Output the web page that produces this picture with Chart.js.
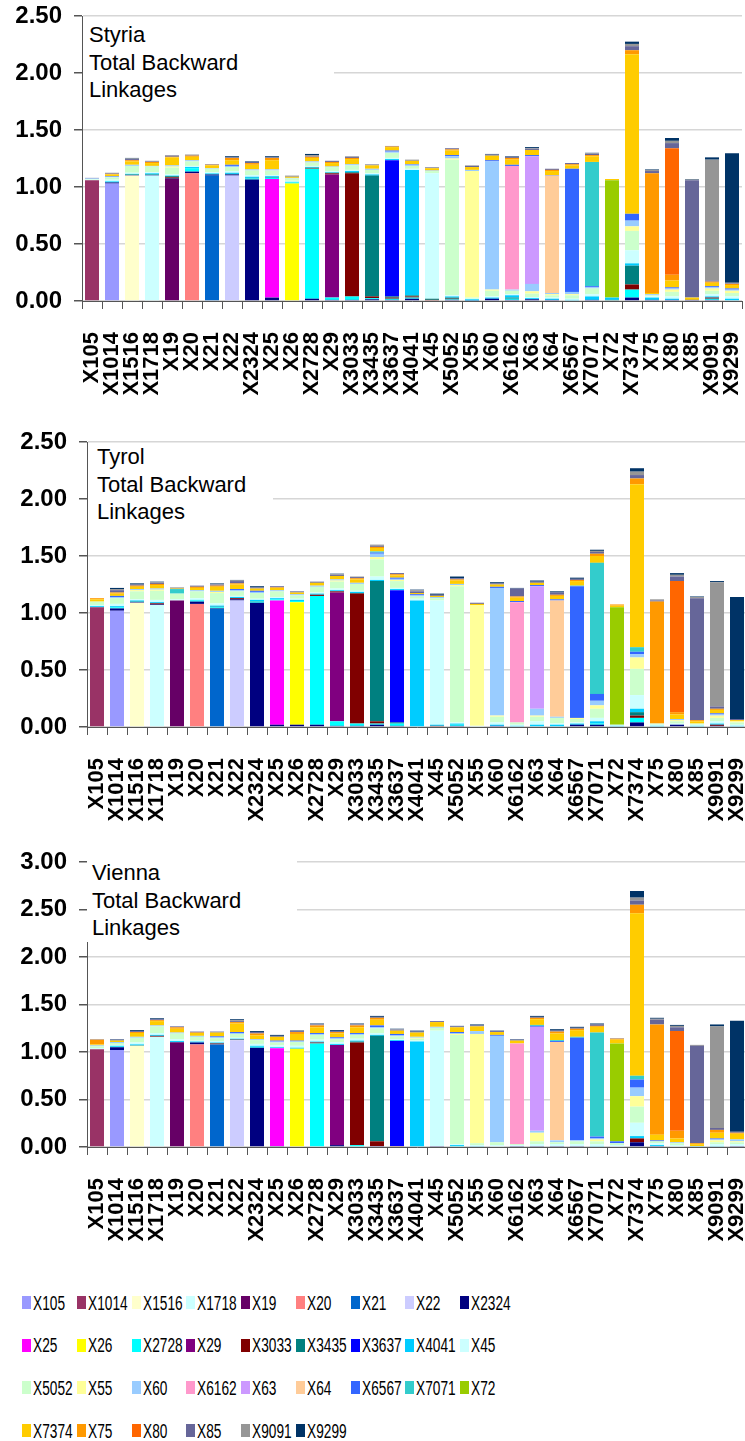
<!DOCTYPE html>
<html>
<head>
<meta charset="utf-8">
<script src="https://cdn.jsdelivr.net/npm/chart.js@4.4.1/dist/chart.umd.min.js"></script>
<style>
    html, body { margin: 0; padding: 0; background: #fff; }
    body { width: 745px; height: 1441px; position: relative; overflow: hidden; font-family: "Liberation Sans", Arial, sans-serif; }
    canvas { position: absolute; left: 0; }
    .title { position: absolute; background: #fff; font-size: 22px; line-height: 27.7px; color: #000; }
    .legend-item { position: absolute; width: 54px; height: 13px; }
    .swatch { position: absolute; left: 0; top: 0; width: 9px; height: 13px; }
    .legend-item span { position: absolute; left: 11px; top: -3.5px; font-size: 20px; line-height: 20px; transform: scaleX(0.685); transform-origin: 0 50%; white-space: nowrap; color: #000; }
</style>
</head>
<body>
<canvas id="styria-chart" width="745" height="400" style="top:0px"></canvas>
<canvas id="tyrol-chart" width="748" height="400" style="top:426px"></canvas>
<canvas id="vienna-chart" width="748" height="400" style="top:846px"></canvas>

<div class="title" style="left:83px;top:21px;width:245px;padding-left:6px;">Styria<br>Total Backward<br>Linkages</div>
<div class="title" style="left:88px;top:443px;width:176px;padding-left:9px;">Tyrol<br>Total Backward<br>Linkages</div>
<div class="title" style="left:87px;top:859px;width:205px;padding-left:5px;">Vienna<br>Total Backward<br>Linkages</div>

<div id="legend"></div>

<script>
    // sectors on the x axis (and legend series, same order)
    const categories = ['X105', 'X1014', 'X1516', 'X1718', 'X19', 'X20', 'X21', 'X22', 'X2324',
        'X25', 'X26', 'X2728', 'X29', 'X3033', 'X3435', 'X3637', 'X4041', 'X45',
        'X5052', 'X55', 'X60', 'X6162', 'X63', 'X64', 'X6567', 'X7071', 'X72',
        'X7374', 'X75', 'X80', 'X85', 'X9091', 'X9299'];
    const seriesNames = categories.slice();
    const seriesColors = ['#9999FF', '#993366', '#FFFFCC', '#CCFFFF', '#660066', '#FF8080', '#0066CC', '#CCCCFF', '#000080',
        '#FF00FF', '#FFFF00', '#00FFFF', '#800080', '#800000', '#008080', '#0000FF', '#00CCFF', '#CCFFFF',
        '#CCFFCC', '#FFFF99', '#99CCFF', '#FF99CC', '#CC99FF', '#FFCC99', '#3366FF', '#33CCCC', '#99CC00',
        '#FFCC00', '#FF9900', '#FF6600', '#666699', '#969696', '#003366'];
    // series that fills the main block of each bar (first two are swapped in the original)
    const barOwner = ['X1014', 'X105', 'X1516', 'X1718', 'X19', 'X20', 'X21', 'X22', 'X2324',
        'X25', 'X26', 'X2728', 'X29', 'X3033', 'X3435', 'X3637', 'X4041', 'X45',
        'X5052', 'X55', 'X60', 'X6162', 'X63', 'X64', 'X6567', 'X7071', 'X72',
        'X7374', 'X75', 'X80', 'X85', 'X9091', 'X9299'];

    // ---- Styria ----
    const styriaOwn = [1.06, 1.03, 1.10, 1.10, 1.07, 1.12, 1.10, 1.10, 1.065, 1.04, 1.03, 1.14, 1.08, 1.08, 1.06, 1.195, 1.10, 1.10, 1.19, 1.11, 1.125, 1.085, 1.12, 1.03, 1.08, 1.09, 1.03, 1.40, 1.05, 1.11, 1.03, 1.06, 1.135];
    const styriaX2324 = [0, .01, .005, .005, .005, .015, .01, .01, 0, .03, 0, .02, .01, .01, .015, .01, .02, 0, .01, .005, .02, .01, .015, .01, 0, .01, 0, .03, .01, .01, .01, .01, 0];
    const styriaX2728 = [0, .005, 0, 0, 0, .03, .005, 0, .01, .01, .01, 0, .02, .03, .01, .01, .01, 0, .005, 0, 0, .01, 0, 0, 0, 0, 0, .07, 0, 0, 0, .01, 0];
    const styriaX3033 = [0, 0, 0, 0, .01, 0, 0, 0, 0, 0, 0, .005, .01, 0, .015, .01, .01, .01, .005, 0, 0, 0, 0, 0, 0, 0, 0, .045, 0, 0, 0, .01, 0];
    const styriaX3435 = [0, 0, .005, .005, .01, 0, 0, .005, .005, .005, 0, .005, .005, .01, 0, .01, .01, .01, .01, 0, 0, .01, 0, 0, 0, 0, .01, .165, 0, 0, 0, 0, 0];
    const styriaX4041 = [0, .005, .005, .01, .005, .01, .005, .01, .01, .01, .005, .005, .005, .01, .01, .01, 0, 0, .01, .01, .01, .02, .01, .01, .01, .03, .02, .02, .02, .01, 0, .01, .02];
    const styriaX45 = [.005, .015, .01, .01, .01, .01, .01, .015, .015, .01, .01, .01, .01, .01, .01, .01, .01, 0, .01, .005, .01, .01, .01, .01, .01, .02, 0, .115, .01, .02, 0, .02, .02];
    const styriaX5052 = [.005, .02, .06, .05, .06, .04, .03, .035, .04, .04, .02, .03, .035, .04, .03, .045, .025, .02, 0, .01, .05, .03, .03, .02, .03, .05, 0, .17, .01, .04, 0, .03, .03];
    const styriaX55 = [0, 0, 0, 0, .01, 0, 0, 0, 0, 0, 0, 0, 0, 0, 0, 0, 0, 0, .01, 0, .01, 0, .02, .01, .01, 0, 0, .04, 0, .02, 0, .02, .02];
    const styriaX60 = [.005, .005, .01, .005, .01, .01, .005, .01, .01, .01, .005, .01, .005, .01, .01, .01, .01, .005, .02, .01, 0, .01, .065, .01, .02, .01, 0, .05, .01, .01, 0, .01, .01];
    const styriaX6567 = [0, .005, 0, 0, 0, 0, 0, .01, 0, 0, 0, 0, 0, 0, 0, .01, .005, 0, .01, 0, .01, .01, .01, .005, 0, .01, 0, .06, 0, .01, 0, .01, .01];
    const styriaX7374 = [0, .015, .03, .025, .07, .03, .025, .04, .04, .08, .01, .03, .03, .045, .03, .03, .03, .02, .04, .025, .04, .045, .045, .035, .03, .05, .01, 0, .01, .06, .02, .03, .03];
    const styriaX75 = [0, .005, .01, .01, .005, .01, .005, .02, .015, .02, 0, .01, .01, .01, 0, .005, 0, 0, .01, 0, 0, .015, 0, .01, .01, .01, 0, .035, 0, .05, 0, .01, .01];
    const styriaX85 = [.005, .005, .01, .005, .01, .005, .005, .005, .01, .005, .005, .005, .01, .01, .005, .005, .005, .005, .01, .01, .01, .01, .01, .01, .01, .01, 0, .035, .02, .045, 0, .01, .005];
    const styriaX9091 = [0, .005, .005, .005, .005, .005, 0, 0, 0, 0, .005, .01, 0, .005, .005, 0, .005, .005, 0, .005, 0, 0, .005, 0, 0, .005, 0, .02, .01, .02, .005, 0, .005];
    const styriaX9299 = [0, 0, .005, 0, 0, 0, 0, .01, .005, .01, 0, .01, 0, 0, 0, 0, 0, 0, 0, 0, .005, .005, .01, 0, 0, .005, 0, .02, .005, .025, .005, .02, 0];

    // ---- Tyrol ----
    const tyrolOwn = [1.05, 1.02, 1.09, 1.07, 1.11, 1.08, 1.035, 1.11, 1.09, 1.09, 1.075, 1.13, 1.13, 1.14, 1.23, 1.16, 1.11, 1.09, 1.195, 1.06, 1.12, 1.055, 1.075, 1.02, 1.155, 1.15, 1.03, 1.43, 1.07, 1.15, 1.07, 1.09, 1.07];
    const tyrolX2324 = [0, .02, .005, .005, 0, .02, .005, .01, 0, .02, .02, .02, .01, .01, .02, .01, 0, 0, .01, 0, .01, 0, 0, 0, .02, .02, 0, .04, 0, .02, 0, .01, 0];
    const tyrolX2728 = [0, .01, 0, 0, 0, .01, .01, 0, .01, .01, .01, 0, .04, .02, .01, .02, 0, 0, .01, 0, 0, 0, 0, 0, 0, .01, 0, .04, 0, 0, 0, 0, 0];
    const tyrolX3033 = [0, 0, 0, .01, 0, 0, 0, .01, 0, 0, 0, .01, .01, 0, .02, 0, 0, .01, 0, 0, 0, 0, 0, 0, 0, 0, 0, .02, 0, 0, 0, .01, 0];
    const tyrolX3435 = [0, 0, .005, 0, 0, 0, .005, 0, .005, 0, 0, 0, 0, .005, 0, .01, 0, 0, 0, 0, 0, 0, 0, 0, 0, 0, 0, .03, 0, 0, 0, 0, 0];
    const tyrolX4041 = [.01, .01, .01, .01, 0, .005, .01, .01, .01, .01, .01, .01, .01, .01, .01, .01, 0, .01, .01, 0, .01, .01, .02, .02, .01, .02, .01, .03, .01, 0, .01, .01, .01];
    const tyrolX45 = [.01, .02, .01, .02, .01, .015, .02, .01, .01, .01, .01, .01, .015, .01, .03, .01, .015, 0, .01, .01, .02, .01, .03, .01, .01, .03, .01, .12, .01, .01, .01, .02, .01];
    const tyrolX5052 = [.03, .05, .07, .08, .05, .06, .09, .04, .05, .05, .03, .05, .06, .06, .15, .06, .02, .02, 0, 0, .05, .02, .04, .05, .03, .08, 0, .23, .01, .02, .01, .03, .02];
    const tyrolX55 = [0, 0, .01, .01, 0, 0, .01, 0, 0, 0, 0, 0, .01, 0, .02, .01, 0, 0, .01, 0, .01, 0, .01, 0, .01, .03, 0, .10, 0, .01, 0, .02, .01];
    const tyrolX60 = [0, .01, .01, .01, 0, .01, .01, .01, .01, .01, .01, .01, .01, .01, .03, .01, .01, .01, .01, 0, 0, 0, .06, .01, 0, .04, 0, .03, 0, .01, 0, .01, 0];
    const tyrolX6567 = [0, .01, 0, 0, 0, 0, 0, .01, .01, 0, 0, 0, 0, 0, .01, .01, .01, 0, 0, 0, .01, .01, .01, .01, 0, .06, 0, .02, 0, 0, 0, .01, 0];
    const tyrolX7071 = [0, 0, 0, 0, .04, 0, 0, 0, 0, 0, 0, 0, 0, 0, .01, 0, 0, 0, 0, 0, 0, 0, 0, 0, .005, 0, 0, .04, 0, 0, 0, 0, 0];
    const tyrolX7374 = [.02, .02, .02, .03, .005, .02, .035, .04, .02, .02, .015, .025, .03, .03, .03, .02, .01, .01, .03, .01, .02, .03, .02, .03, .04, .06, .015, 0, 0, .04, .02, .03, .01];
    const tyrolX75 = [.01, .01, .01, .01, 0, .01, .01, .01, 0, .005, 0, 0, 0, .01, .01, .01, 0, 0, .01, 0, 0, .01, 0, .01, .01, .02, .01, .05, 0, .02, .01, .01, 0];
    const tyrolX85 = [0, .02, .01, .01, .005, .01, .01, .02, .01, .01, .01, .01, .01, .01, .01, .01, .015, .01, .01, .01, .01, .07, .01, .02, .01, .015, 0, .03, .01, .04, 0, .02, .01];
    const tyrolX9091 = [0, .01, 0, .005, .005, 0, .005, .005, 0, 0, 0, 0, .005, .005, .01, 0, .01, 0, 0, 0, 0, 0, 0, 0, 0, .01, 0, .03, .01, .015, .01, 0, 0];
    const tyrolX9299 = [0, .01, .01, .005, 0, 0, .005, .005, .01, 0, 0, 0, .005, 0, 0, 0, .005, .01, .015, 0, .01, .005, .01, .01, .01, .01, 0, .03, 0, .015, .005, .01, 0];

    // ---- Vienna ----
    const viennaOwn = [1.03, 1.02, 1.065, 1.16, 1.10, 1.08, 1.08, 1.125, 1.045, 1.03, 1.035, 1.09, 1.055, 1.08, 1.11, 1.105, 1.11, 1.215, 1.15, 1.15, 1.12, 1.06, 1.095, 1.035, 1.08, 1.095, 1.03, 1.71, 1.16, 1.05, 1.025, 1.07, 1.17];
    const viennaX2324 = [0, .03, 0, 0, .005, .02, 0, 0, 0, .01, 0, 0, .02, 0, .01, 0, 0, .01, 0, 0, 0, .01, .01, .01, .01, 0, 0, .05, .01, 0, 0, 0, .01];
    const viennaX2728 = [0, .005, 0, 0, 0, 0, 0, 0, .01, 0, 0, 0, 0, .02, 0, 0, 0, 0, .01, 0, 0, 0, 0, 0, 0, 0, 0, 0, 0, 0, 0, 0, 0];
    const viennaX3033 = [0, 0, 0, .01, 0, 0, .01, .005, 0, 0, 0, .01, 0, 0, .05, .01, 0, 0, 0, 0, 0, 0, 0, 0, 0, 0, 0, .04, 0, 0, 0, 0, 0];
    const viennaX3435 = [0, 0, .005, 0, 0, 0, 0, 0, 0, 0, 0, 0, 0, .01, 0, 0, 0, 0, 0, 0, 0, 0, 0, 0, 0, 0, 0, 0, 0, 0, 0, 0, 0];
    const viennaX4041 = [0, .01, .01, .01, .01, .01, .01, .01, .01, .01, .01, .01, .01, .01, .01, .01, 0, 0, .01, .01, 0, 0, 0, 0, 0, .01, 0, .025, .01, 0, .01, .01, 0];
    const viennaX45 = [.01, .01, .02, .02, .02, .01, .015, .01, .02, .02, .02, .02, .02, .02, .02, .01, .01, 0, .01, .01, .02, .01, .02, .02, .02, .02, .02, .14, .02, .02, 0, .02, .02];
    const viennaX5052 = [.02, .02, .05, .07, .06, .04, .03, .04, .04, .03, .04, .05, .03, .04, .05, .03, .02, .03, 0, .02, .03, .01, .03, .02, .03, .03, .02, .17, .02, .02, 0, .02, .02];
    const viennaX55 = [0, 0, 0, 0, 0, 0, 0, 0, 0, 0, 0, 0, 0, 0, 0, 0, .01, 0, .01, 0, 0, 0, .09, 0, 0, .02, 0, .11, 0, 0, 0, .02, .01];
    const viennaX60 = [.01, .01, .01, .01, .01, .01, .01, .01, .01, .01, .01, .01, .01, .01, .01, .01, .01, .01, .01, .03, 0, 0, .02, .02, .01, .01, 0, .09, 0, .01, 0, .01, .02];
    const viennaX6567 = [0, 0, 0, 0, 0, 0, .01, .01, 0, .01, .005, .01, .01, .01, .02, .015, 0, 0, .01, 0, .01, 0, .01, .01, 0, .02, .02, .085, .01, 0, 0, .01, 0];
    const viennaX7071 = [0, 0, 0, 0, 0, 0, 0, 0, 0, 0, 0, 0, 0, 0, 0, 0, 0, 0, 0, 0, 0, 0, .01, .01, .01, 0, 0, .04, 0, 0, 0, 0, 0];
    const viennaX7374 = [.01, .015, .04, .045, .04, .03, .04, .09, .04, .04, .07, .06, .04, .06, .06, .035, .045, .05, .05, .05, .03, .03, .06, .07, .07, .06, .04, 0, .06, .04, .02, .06, .06];
    const viennaX75 = [.05, 0, .01, .01, .015, .005, 0, .015, .02, 0, .02, .02, .015, .02, .02, 0, 0, 0, 0, 0, 0, 0, .015, .02, .015, .01, .01, .09, 0, .08, .01, .03, .01];
    const viennaX85 = [.005, .01, .01, .01, .01, .01, .01, .01, .015, .01, .01, .01, .01, .01, .01, .01, .01, .01, .01, .01, .01, .01, .01, .01, .01, .015, .005, .045, .05, .04, 0, .02, .01];
    const viennaX9091 = [0, 0, 0, 0, 0, 0, 0, .01, 0, 0, .005, .005, 0, .005, 0, .005, 0, 0, 0, 0, 0, 0, 0, 0, 0, 0, 0, .03, .01, .015, .01, 0, 0];
    const viennaX9299 = [0, .005, .01, .01, 0, 0, 0, .01, .01, .01, .005, .005, .01, .005, .01, .005, .01, 0, .005, .01, .005, .005, .01, .015, .01, .01, 0, .07, .01, .01, 0, .02, 0];

    const styriaTicks = [0, 0.5, 1, 1.5, 2, 2.5];
    const tyrolTicks = [0, 0.5, 1, 1.5, 2, 2.5];
    const viennaTicks = [0, 0.5, 1, 1.5, 2, 2.5, 3];

    const fontFamily = '"Liberation Sans", Arial, sans-serif';

    function buildDatasets(own, inputs) {
        return seriesNames.map((name, s) => ({
            label: name,
            data: categories.map((c, b) => {
                let v = barOwner[b] === name ? own[b] : 0;
                if (inputs[name]) v += inputs[name][b];
                return v;
            }),
            backgroundColor: seriesColors[s],
            borderWidth: 0,
            barPercentage: 0.7,
            categoryPercentage: 1.0
        }));
    }

    function makeChart(id, own, inputs, ticks, axisWidth, padRight) {
        const ctx = document.getElementById(id).getContext('2d');
        return new Chart(ctx, {
            type: 'bar',
            data: { labels: categories, datasets: buildDatasets(own, inputs) },
            options: {
                responsive: false,
                animation: false,
                layout: { padding: { top: 16, right: padRight, left: 0, bottom: 0 } },
                plugins: { legend: { display: false }, tooltip: { enabled: false } },
                scales: {
                    x: {
                        stacked: true,
                        grid: { offset: true, drawOnChartArea: false, tickLength: 8, tickColor: '#555', lineWidth: 1 },
                        border: { color: '#555', width: 1 },
                        ticks: {
                            autoSkip: false, maxRotation: 90, minRotation: 90, padding: 23, color: '#000',
                            font: { family: fontFamily, size: 22, weight: 'bold' }
                        },
                        afterFit: a => { a.height = 99; a.paddingLeft = 0; a.paddingRight = 0; }
                    },
                    y: {
                        stacked: true,
                        min: ticks[0],
                        max: ticks[ticks.length - 1],
                        afterBuildTicks: a => { a.ticks = ticks.map(v => ({ value: v })); },
                        grid: { color: '#d6d6d6', lineWidth: 1.5, tickLength: 8, tickColor: '#555' },
                        border: { color: '#555', width: 1 },
                        ticks: {
                            padding: 12, color: '#000',
                            font: { family: fontFamily, size: 24, weight: 'bold' },
                            callback: v => Number(v).toFixed(2)
                        },
                        afterFit: a => { a.width = axisWidth; a.paddingTop = 0; a.paddingBottom = 0; }
                    }
                }
            }
        });
    }

    makeChart('styria-chart', styriaOwn, {
        X2324: styriaX2324, X2728: styriaX2728, X3033: styriaX3033, X3435: styriaX3435,
        X4041: styriaX4041, X45: styriaX45, X5052: styriaX5052, X55: styriaX55, X60: styriaX60,
        X6567: styriaX6567, X7374: styriaX7374, X75: styriaX75, X85: styriaX85,
        X9091: styriaX9091, X9299: styriaX9299
    }, styriaTicks, 82, 3);

    makeChart('tyrol-chart', tyrolOwn, {
        X2324: tyrolX2324, X2728: tyrolX2728, X3033: tyrolX3033, X3435: tyrolX3435,
        X4041: tyrolX4041, X45: tyrolX45, X5052: tyrolX5052, X55: tyrolX55, X60: tyrolX60,
        X6567: tyrolX6567, X7071: tyrolX7071, X7374: tyrolX7374, X75: tyrolX75, X85: tyrolX85,
        X9091: tyrolX9091, X9299: tyrolX9299
    }, tyrolTicks, 87, 1);

    makeChart('vienna-chart', viennaOwn, {
        X2324: viennaX2324, X2728: viennaX2728, X3033: viennaX3033, X3435: viennaX3435,
        X4041: viennaX4041, X45: viennaX45, X5052: viennaX5052, X55: viennaX55, X60: viennaX60,
        X6567: viennaX6567, X7071: viennaX7071, X7374: viennaX7374, X75: viennaX75, X85: viennaX85,
        X9091: viennaX9091, X9299: viennaX9299
    }, viennaTicks, 87, 1);

    // shared legend below the three charts
    const legend = document.getElementById('legend');
    seriesNames.forEach((name, i) => {
        const item = document.createElement('div');
        item.className = 'legend-item';
        item.style.left = (22 + (i % 9) * 54.75) + 'px';
        item.style.top = (1296 + Math.floor(i / 9) * 42.7) + 'px';
        item.innerHTML = `<div class="swatch" style="background:${seriesColors[i]}"></div><span>${name}</span>`;
        legend.appendChild(item);
    });
</script>
</body>
</html>
